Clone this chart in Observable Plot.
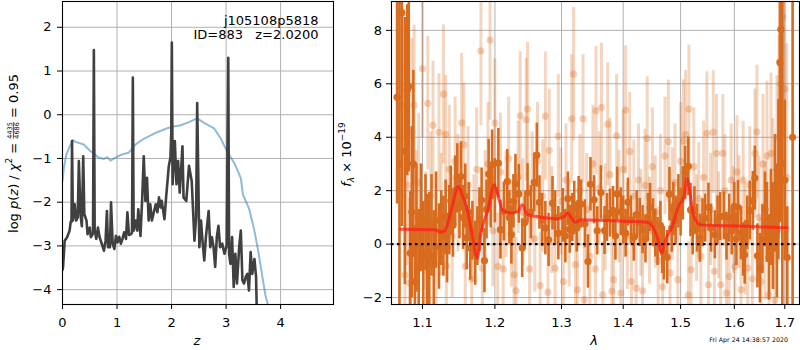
<!DOCTYPE html>
<html><head><meta charset="utf-8">
<script src="https://cdn.jsdelivr.net/npm/d3@7"></script>
<script src="https://cdn.jsdelivr.net/npm/@observablehq/plot@0.6"></script>
<style>
body{margin:0;background:#fff;}
#wrap{position:relative;width:800px;height:350px;overflow:hidden;font-family:"DejaVu Sans";background:#fff;}
#left{position:absolute;left:0;top:0;}
#right{position:absolute;left:335px;top:0;}
svg text{white-space:pre;}
</style></head><body><div id="wrap"><div id="left"></div><div id="right"></div></div>
<script>
// ---------- data: left panel ----------
const zTicks = [0, 1, 2, 3, 4];
const pzTicks = [-4, -3, -2, -1, 0, 1, 2];
const pzZ = [0.00,0.01,0.04,0.085,0.13,0.15,0.165,0.175,0.19,0.225,0.25,0.28,0.30,0.33,0.355,0.38,0.40,0.44,0.46,0.50,0.52,0.545,0.56,0.575,0.59,0.62,0.65,0.68,0.72,0.76,0.79,0.815,0.835,0.87,0.89,0.92,0.95,0.98,1.01,1.04,1.07,1.10,1.13,1.165,1.19,1.22,1.255,1.275,1.29,1.305,1.34,1.37,1.39,1.43,1.46,1.49,1.52,1.55,1.58,1.61,1.64,1.68,1.71,1.74,1.77,1.80,1.82,1.87,1.90,1.95,1.98,1.995,2.005,2.02,2.06,2.09,2.12,2.15,2.20,2.22,2.27,2.32,2.37,2.42,2.45,2.47,2.51,2.54,2.57,2.60,2.63,2.68,2.71,2.74,2.77,2.80,2.83,2.86,2.89,2.93,2.97,3.01,3.04,3.055,3.08,3.11,3.14,3.17,3.20,3.24,3.27,3.30,3.33,3.36,3.39,3.42,3.45,3.48,3.52,3.55,3.565];
const pzLog = [-3.55,-3.48,-2.88,-2.80,-2.65,-2.45,-2.45,-0.60,-2.42,-2.05,-2.42,-2.35,-1.06,-2.27,-2.55,-0.95,-2.27,-2.42,-2.73,-2.58,-2.80,-2.75,-2.70,1.48,-2.65,-2.84,-2.58,-2.80,-2.95,-3.11,-2.88,-2.20,-3.03,-3.03,-2.00,-2.95,-3.07,-2.77,-2.92,-2.79,-2.95,-2.84,-2.69,-2.84,-2.23,-2.75,-2.73,-2.70,0.85,-2.65,-2.42,-2.65,-2.16,-2.77,-1.97,-0.95,-1.97,-1.44,-2.42,-2.05,-2.42,-2.20,-2.05,-2.23,-1.89,-2.12,-1.97,-2.39,-1.89,-1.17,-0.98,-0.40,1.65,-1.59,-0.60,-1.59,-1.06,-1.78,-0.72,-1.89,-1.97,-1.17,-1.52,-2.88,-2.35,0.27,-3.03,-2.42,-2.92,-3.33,-2.80,-2.20,-3.03,-2.80,-3.03,-3.48,-2.80,-2.54,-3.03,-2.95,-3.18,-3.00,1.30,-3.18,-3.41,-2.80,-3.94,-3.18,-3.86,-3.03,-2.65,-3.79,-3.86,-3.71,-3.64,-4.02,-3.14,-3.64,-3.30,-3.71,-4.60];
const priorZ = [0,0.025,0.07,0.135,0.19,0.24,0.39,0.51,0.57,0.63,0.66,0.76,0.82,0.88,0.97,1.09,1.21,1.34,1.49,1.68,1.92,2.04,2.17,2.32,2.47,2.59,2.78,2.90,3.02,3.17,3.27,3.31,3.42,3.51,3.58,3.66,3.72,3.80];
const priorLog = [-1.52,-1.22,-0.91,-0.72,-0.58,-0.62,-0.68,-0.83,-0.87,-0.95,-0.98,-1.01,-0.97,-1.05,-0.98,-0.91,-0.87,-0.68,-0.55,-0.43,-0.31,-0.27,-0.24,-0.17,-0.08,-0.18,-0.31,-0.54,-0.84,-1.15,-1.45,-1.83,-2.14,-2.60,-3.05,-3.66,-4.12,-4.50];
const objName = "j105108p5818";
const objId = "ID=883";
const objZ = "z=2.0200";

// ---------- data: right panel ----------
const lamTicks = [1.1, 1.2, 1.3, 1.4, 1.5, 1.6, 1.7];
const fluxTicks = [-2, 0, 2, 4, 6, 8];
const lightWave = [1.074,1.077,1.080,1.083,1.086,1.089,1.092,1.095,1.100,1.104,1.107,1.111,1.114,1.118,1.122,1.125,1.128,1.131,1.132,1.136,1.140,1.144,1.148,1.153,1.156,1.158,1.162,1.167,1.170,1.174,1.180,1.182,1.186,1.190,1.193,1.197,1.200,1.204,1.208,1.212,1.216,1.220,1.224,1.228,1.231,1.234,1.237,1.241,1.246,1.248,1.251,1.255,1.259,1.263,1.267,1.271,1.275,1.279,1.281,1.285,1.290,1.295,1.299,1.303,1.307,1.312,1.316,1.319,1.322,1.325,1.329,1.334,1.336,1.340,1.345,1.350,1.354,1.355,1.360,1.364,1.366,1.370,1.374,1.378,1.381,1.384,1.389,1.393,1.396,1.400,1.404,1.407,1.411,1.414,1.418,1.422,1.426,1.430,1.433,1.437,1.441,1.445,1.450,1.455,1.460,1.464,1.468,1.472,1.478,1.481,1.485,1.490,1.495,1.500,1.505,1.509,1.514,1.515,1.519,1.524,1.529,1.533,1.537,1.542,1.548,1.551,1.555,1.560,1.562,1.566,1.570,1.574,1.578,1.582,1.585,1.590,1.594,1.598,1.601,1.605,1.609,1.613,1.617,1.621,1.626,1.630,1.635,1.640,1.644,1.648,1.652,1.656,1.660,1.664,1.668,1.672,1.676,1.680,1.684,1.688,1.692,1.696,1.700,1.704];
const lightFlux = [5.2,-1.15,2.2,-1.46,4.2,5.2,1.0,2.3,6.56,0.5,5.27,1.8,4.45,-0.3,4.18,1.1,5.61,4.11,-0.82,2.8,0.3,3.1,1.9,4.54,3.72,-0.83,2.2,-1.31,0.6,2.8,7.23,-0.9,1.4,3.0,7.64,0.5,4.53,-0.83,2.7,-0.93,1.5,3.2,0.4,-1.15,-1.75,2.5,4.80,1.2,4.65,5.05,-0.93,2.1,0.2,3.1,-1.55,1.8,4.79,-1.8,3.5,0.9,-0.9,4.04,1.6,-1.4,2.4,0.4,4.69,6.36,-0.77,-1.71,2.0,4.69,-2.08,1.3,-0.46,3.0,-0.93,4.99,2.1,5.12,-1.9,1.0,4.49,2.6,-1.76,-1.33,4.05,1.4,-1.83,2.8,5.02,0.3,3.47,-1.4,1.8,-1.65,2.4,0.8,-1.75,2.2,3.96,0.5,2.9,1.2,-0.61,2.0,-1.6,3.3,3.84,-1.08,1.5,2.3,-1.33,3.1,3.85,4.1,-1.9,5.05,-0.96,2.9,0.6,1.7,-0.46,2.5,4.15,-1.52,1.3,4.19,-1.02,3.4,0.7,-1.52,3.4,2.0,-1.83,-1.21,2.4,0.9,-0.84,2.7,1.2,-1.7,2.4,0.2,-0.9,2.2,-1.3,3.4,4.2,1.0,-1.4,3.0,0.5,3.3,-1.9,3.4,1.5,-2.1,2.8,4.0,6.0,8.5,5.8,2.5];
const lightErr = [3.5,3.0,3.0,3.2,3.5,3.0,2.5,2.6,2.6,2.2,2.5,2.4,2.4,2.3,2.2,2.3,2.6,2.2,2.0,2.4,2.3,2.4,2.2,2.6,2.3,2.0,2.2,2.1,2.0,2.3,2.8,2.2,2.1,2.3,3.0,2.1,2.4,2.0,2.2,2.1,2.0,2.3,2.0,2.1,2.0,2.1,2.4,2.0,2.3,2.5,2.0,2.1,2.0,2.2,2.0,2.1,2.4,2.0,2.3,2.0,2.0,2.3,2.0,2.1,2.1,2.0,2.4,2.5,2.0,2.0,2.1,2.4,2.0,2.1,2.0,2.2,2.0,2.4,2.1,2.4,2.0,2.0,2.3,2.1,2.0,2.0,2.3,2.1,2.0,2.2,2.4,2.0,2.2,2.0,2.1,2.0,2.1,2.0,2.0,2.1,2.3,2.0,2.2,2.1,2.0,2.1,2.0,2.2,2.3,2.0,2.1,2.2,2.0,2.2,2.3,2.4,2.0,2.4,2.0,2.2,2.0,2.1,2.0,2.1,2.3,2.0,2.1,2.3,2.0,2.2,2.0,2.0,2.2,2.1,2.0,2.0,2.1,2.0,2.0,2.1,2.1,2.1,2.2,2.1,2.1,2.2,2.2,2.4,2.5,2.3,2.4,2.6,2.6,2.8,2.7,3.0,3.2,3.2,3.5,3.8,4.0,4.5,4.5,5.0];
const darkWave = [1.067,1.070,1.073,1.077,1.080,1.082,1.084,1.086,1.088,1.090,1.092,1.095,1.098,1.101,1.104,1.106,1.109,1.112,1.115,1.118,1.122,1.125,1.128,1.131,1.133,1.136,1.138,1.141,1.144,1.147,1.150,1.152,1.155,1.158,1.160,1.163,1.165,1.168,1.172,1.175,1.178,1.181,1.185,1.188,1.191,1.194,1.196,1.200,1.205,1.208,1.213,1.218,1.221,1.224,1.227,1.230,1.235,1.240,1.244,1.248,1.253,1.258,1.262,1.266,1.270,1.275,1.280,1.286,1.290,1.295,1.302,1.306,1.310,1.313,1.317,1.320,1.324,1.327,1.331,1.337,1.342,1.346,1.352,1.357,1.363,1.369,1.373,1.378,1.383,1.387,1.390,1.396,1.400,1.404,1.408,1.413,1.418,1.423,1.428,1.433,1.438,1.442,1.446,1.451,1.455,1.459,1.464,1.467,1.470,1.476,1.480,1.484,1.487,1.491,1.496,1.500,1.504,1.508,1.514,1.518,1.522,1.525,1.530,1.535,1.540,1.545,1.551,1.556,1.563,1.568,1.573,1.580,1.585,1.590,1.595,1.600,1.604,1.607,1.613,1.617,1.620,1.625,1.630,1.636,1.640,1.645,1.650,1.655,1.660,1.664,1.668,1.672,1.676,1.680,1.684,1.687,1.690,1.692,1.695,1.700,1.705,1.716];
const darkFlux = [5.5,3.0,8.66,3.48,5.76,5.9,-0.34,1.2,3.0,-1.4,0.6,-0.9,1.0,-0.4,0.8,-0.34,-0.46,0.7,-0.75,0.9,-0.09,0.6,0.3,1.0,-0.15,0.9,1.62,0.71,2.0,2.46,1.4,2.53,1.0,1.8,0.24,1.2,-0.15,0.5,-0.34,0.3,0.91,1.65,-0.62,1.3,2.62,1.8,2.97,2.0,3.03,0.54,1.22,2.34,1.0,0.35,1.6,2.26,1.88,-0.15,0.81,1.91,1.2,2.31,3.33,1.56,0.9,0.6,0.16,1.53,1.0,0.41,1.08,0.3,1.7,0.56,1.0,1.35,0.6,1.53,1.5,0.76,-0.65,2.24,1.66,0.5,1.93,0.51,1.0,1.16,1.26,0.3,1.88,1.21,0.9,0.41,1.57,0.9,0.26,1.1,0.81,0.54,0.2,1.0,1.37,0.8,0.41,0.1,0.7,-0.2,-0.34,-0.49,1.87,0.6,1.31,0.9,1.6,1.2,1.9,2.66,2.91,1.28,0.5,1.25,0.6,0.22,0.8,0.97,1.38,0.6,0.35,0.9,1.03,1.06,0.3,0.97,0.5,1.41,0.2,1.38,0.41,-0.2,-0.4,0.8,1.26,1.62,2.47,-0.44,-0.9,0.19,1.3,0.81,-0.5,1.0,0.3,1.9,0.5,2.41,6.8,8.04,3.0,2.39,-0.5,4.0];
const darkErr = [4.0,9.0,8.0,5.0,3.2,3.2,2.3,3.2,3.5,2.0,2.4,2.2,2.0,2.0,1.8,2.2,2.4,1.9,2.0,1.8,1.6,1.4,1.5,1.4,1.3,1.3,1.3,1.2,1.3,1.3,1.2,1.3,1.2,1.2,1.2,1.1,1.2,1.1,1.2,1.1,1.2,1.2,1.2,1.1,1.3,1.2,1.3,1.2,1.3,1.1,1.1,1.2,1.0,1.1,1.0,1.1,1.1,1.1,1.0,1.1,1.0,1.1,1.2,1.0,1.0,1.0,1.0,1.0,1.0,1.0,1.0,1.0,1.0,0.9,0.9,1.0,0.9,1.0,0.9,0.9,1.0,1.0,0.9,0.9,1.0,0.9,0.9,0.9,0.9,0.9,1.0,0.9,0.9,0.9,0.9,0.9,0.9,0.9,0.9,0.9,0.9,0.9,0.9,0.9,0.9,0.9,0.9,0.9,1.0,1.0,1.0,0.9,1.0,0.9,1.0,0.9,1.0,1.0,1.1,1.0,0.9,0.9,0.9,0.9,0.9,0.9,0.9,0.9,0.9,0.9,0.9,0.9,0.9,0.9,0.9,0.9,1.0,1.0,1.0,1.0,1.1,1.0,1.1,1.1,1.2,1.2,1.3,1.3,1.4,1.5,1.6,1.8,2.0,2.2,2.5,3.0,6.0,7.0,8.0,3.0,1.9,12.0];
const modelWave = [1.071,1.116,1.125,1.130,1.140,1.148,1.153,1.162,1.168,1.175,1.180,1.190,1.199,1.206,1.211,1.224,1.234,1.240,1.248,1.262,1.281,1.294,1.304,1.310,1.316,1.322,1.330,1.360,1.412,1.441,1.450,1.458,1.467,1.473,1.485,1.496,1.506,1.512,1.517,1.524,1.537,1.592,1.653,1.705];
const modelFlux = [0.56,0.54,0.45,0.50,1.41,2.16,1.90,1.16,0.29,-0.52,0.41,1.28,2.22,1.66,1.28,1.16,1.22,1.47,1.10,1.03,0.97,0.95,1.03,1.16,0.97,0.81,0.91,0.89,0.85,0.82,0.66,0.29,-0.34,0.16,0.66,1.41,1.78,2.47,1.91,1.03,0.72,0.69,0.64,0.61];
const dateText = "Fri Apr 24 14:38:57 2020";

// ---------- build tables ----------
const pzData = pzZ.map((z, i) => ({z, v: pzLog[i]}));
const priorData = priorZ.map((z, i) => ({z, v: priorLog[i]}));
const light = lightWave.map((w, i) => ({w, f: lightFlux[i], e: lightErr[i]}));
const dark = darkWave.map((w, i) => ({w, f: darkFlux[i], e: darkErr[i]}));
const model = modelWave.map((w, i) => ({w, f: modelFlux[i]}));

const minus = d => d < 0 ? "\u2212" + Math.abs(d) : String(d);
const GRID = {stroke: "#b0b0b0", strokeOpacity: 1, strokeWidth: 1};
const ORANGE = "#d96b1e";
const FONT = "DejaVu Sans";

const left = Plot.plot({
  width: 335, height: 350,
  marginLeft: 62, marginRight: 2, marginTop: 1, marginBottom: 46,
  style: {fontFamily: FONT, fontSize: "13px", color: "black", background: "white", overflow: "visible"},
  x: {domain: [0, 4.97]},
  y: {domain: [-4.34, 2.59]},
  marks: [
    Plot.gridX({ticks: zTicks, ...GRID}),
    Plot.gridY({ticks: pzTicks, ...GRID}),
    Plot.line(priorData, {x: "z", y: "v", stroke: "#1f77b4", strokeOpacity: 0.5, strokeWidth: 2, clip: true}),
    Plot.line(pzData, {x: "z", y: "v", stroke: "#404040", strokeWidth: 2.6, strokeLinejoin: "round", clip: true}),
    Plot.axisX({ticks: zTicks, tickSize: 5, tickPadding: 8, tickFormat: minus, label: null, stroke: "black"}),
    Plot.axisY({ticks: pzTicks, tickSize: 5, tickPadding: 6, tickFormat: minus, label: null, stroke: "black"}),
    Plot.text([objName], {frameAnchor: "top-right", dx: -15, dy: 14, lineAnchor: "top", textAnchor: "end", fontSize: 13, fill: "black"}),
    Plot.text([objZ], {frameAnchor: "top-right", dx: -15, dy: 28, lineAnchor: "top", textAnchor: "end", fontSize: 13, fill: "black"}),
    Plot.text([objId], {frameAnchor: "top-right", dx: -90.5, dy: 28, lineAnchor: "top", textAnchor: "end", fontSize: 13, fill: "black"}),
    Plot.frame({stroke: "black", strokeWidth: 1.1})
  ]
});

const right = Plot.plot({
  width: 465, height: 350,
  marginLeft: 56, marginRight: 1, marginTop: 1, marginBottom: 46,
  style: {fontFamily: FONT, fontSize: "13px", color: "black", background: "white", overflow: "visible"},
  x: {type: "log", domain: [1.0598, 1.7303]},
  y: {domain: [-2.26, 9.08]},
  marks: [
    Plot.gridX({ticks: lamTicks, ...GRID}),
    Plot.gridY({ticks: fluxTicks, ...GRID}),
    Plot.ruleX(light, {x: "w", y1: d => d.f - d.e, y2: d => d.f + d.e, stroke: ORANGE, strokeOpacity: 0.28, strokeWidth: 3, clip: true}),
    Plot.dot(light, {x: "w", y: "f", r: 3.6, fill: ORANGE, fillOpacity: 0.3, stroke: null, clip: true}),
    Plot.ruleX(dark, {x: "w", y1: d => d.f - d.e, y2: d => d.f + d.e, stroke: ORANGE, strokeWidth: 2.6, clip: true}),
    Plot.dot(dark, {x: "w", y: "f", r: 3.6, fill: ORANGE, stroke: null, clip: true}),
    Plot.line(model, {x: "w", y: "f", stroke: "#ff1a1a", strokeOpacity: 0.72, strokeWidth: 3, curve: "monotone-x", clip: true}),
    Plot.ruleY([0], {stroke: "black", strokeWidth: 2.2, strokeDasharray: "2.5,3.5"}),
    Plot.axisX({ticks: lamTicks, tickSize: 5, tickPadding: 8, tickFormat: d => d.toFixed(1), label: null, stroke: "black"}),
    Plot.axisY({ticks: fluxTicks, tickSize: 5, tickPadding: 4.5, tickFormat: minus, label: null, stroke: "black"}),
    Plot.frame({stroke: "black", strokeWidth: 1.1})
  ]
});

document.getElementById("left").appendChild(left);
document.getElementById("right").appendChild(right);

function mathLabel(svg, cx, cy, pieces) {
  const g = d3.select(svg).append("g")
    .attr("transform", `translate(${cx},${cy}) rotate(-90)`)
    .attr("font-family", FONT).attr("fill", "black")
    .attr("text-anchor", "start");
  const inner = g.append("g");
  let x = 0;
  for (const p of pieces) {
    if (p.frac) {
      const a = inner.append("text").attr("text-anchor", "start").attr("x", x).attr("y", p.numY).attr("font-size", p.size).text(p.frac[0]);
      const b = inner.append("text").attr("text-anchor", "start").attr("x", x).attr("y", p.denY).attr("font-size", p.size).text(p.frac[1]);
      const w = Math.max(a.node().getComputedTextLength(), b.node().getComputedTextLength());
      inner.append("rect").attr("x", x).attr("y", p.barY).attr("width", w).attr("height", 0.7);
      x += w;
    } else {
      x += (p.pre || 0);
      const t = inner.append("text").attr("text-anchor", "start").attr("x", x).attr("y", p.dy || 0)
        .attr("font-size", p.size || 13)
        .attr("font-style", p.italic ? "italic" : null)
        .text(p.t);
      x += t.node().getComputedTextLength() + (p.gap || 0);
    }
  }
  inner.attr("transform", `translate(${-x / 2},0)`);
}

mathLabel(left, 17.5, 153.5, [
  {t: "log", gap: 4.1},
  {t: "p", italic: true},
  {t: "("},
  {t: "z", italic: true},
  {t: ")", gap: 4.1},
  {t: "/", gap: 4.1},
  {t: "\u03c7", italic: true},
  {t: "2", size: 9, dy: -5.5},
  {t: "=", gap: 4.1, pre: 4.1},
  {frac: ["4435", "4686"], size: 6.5, numY: -5.6, denY: 1.0, barY: -4.6},
  {t: "=", gap: 4.1, pre: 4.1},
  {t: "0.95"}
]);

mathLabel(right, 15.5, 154.5, [
  {t: "f", italic: true},
  {t: "\u03bb", italic: true, size: 9, dy: 3},
  {t: "\u00d7", pre: 4.1, gap: 4.1},
  {t: "10"},
  {t: "\u221219", size: 9, dy: -5.5}
]);

// axis titles and footer
d3.select(left).append("text").attr("x", 197).attr("y", 344.5).attr("text-anchor", "middle")
  .attr("font-family", FONT).attr("font-size", 13).attr("font-style", "italic").attr("fill", "black").text("z");
d3.select(right).append("text").attr("x", 594 - 335).attr("y", 344.5).attr("text-anchor", "middle")
  .attr("font-family", FONT).attr("font-size", 13).attr("font-style", "italic").attr("fill", "black").text("\u03bb");
d3.select(right).append("text").attr("x", 788 - 335).attr("y", 342).attr("text-anchor", "end")
  .attr("font-family", FONT).attr("font-size", 6.3).attr("fill", "black").text(dateText);
</script></body></html>
